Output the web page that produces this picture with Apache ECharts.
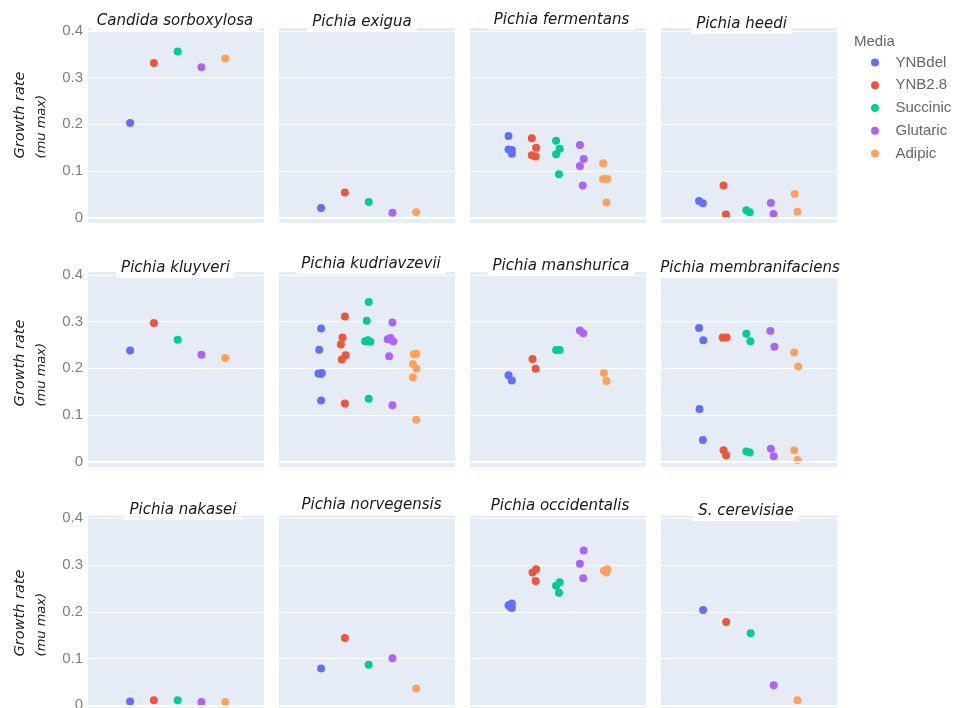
<!DOCTYPE html>
<html>
<head>
<meta charset="utf-8">
<script src="https://cdn.jsdelivr.net/npm/echarts@6/dist/echarts.min.js"></script>
<style>
  html, body { margin: 0; padding: 0; background: #fff; }
  #chart { width: 957px; height: 708px; }
</style>
</head>
<body>
<div id="chart"></div>
<script>
  const media = ['YNBdel', 'YNB2.8', 'Succinic', 'Glutaric', 'Adipic'];
  const species = [
    'Candida sorboxylosa', 'Pichia exigua', 'Pichia fermentans', 'Pichia heedi',
    'Pichia kluyveri', 'Pichia kudriavzevii', 'Pichia manshurica', 'Pichia membranifaciens',
    'Pichia nakasei', 'Pichia norvegensis', 'Pichia occidentalis', 'S. cerevisiae'
  ];
  const yTicks = [0, 0.1, 0.2, 0.3, 0.4];

  // each point: [media index, jitter, growth rate]
  const candidaSorboxylosa = [[0, 0, 0.203], [1, 0, 0.331], [2, 0, 0.356], [3, 0, 0.322], [4, 0, 0.341]];
  const pichiaExigua = [[0, 0, 0.021], [1, 0, 0.054], [2, 0, 0.034], [3, 0, 0.011], [4, 0, 0.012]];
  const pichiaFermentans = [
    [0, -0.15, 0.175], [0, -0.15, 0.146], [0, -0.01, 0.145], [0, -0.01, 0.137],
    [1, -0.17, 0.170], [1, 0.01, 0.150], [1, -0.17, 0.134], [1, -0.01, 0.131],
    [2, -0.15, 0.165], [2, 0, 0.148], [2, -0.15, 0.136], [2, -0.03, 0.093],
    [3, -0.15, 0.156], [3, 0.01, 0.126], [3, -0.15, 0.111], [3, -0.03, 0.069],
    [4, -0.17, 0.117], [4, -0.17, 0.083], [4, 0, 0.083], [4, -0.03, 0.033]
  ];
  const pichiaHeedi = [
    [0, -0.17, 0.036], [0, -0.01, 0.031], [1, -0.14, 0.069], [1, -0.04, 0.007],
    [2, -0.18, 0.016], [2, -0.04, 0.012], [3, -0.15, 0.032], [3, -0.04, 0.008],
    [4, -0.15, 0.051], [4, -0.03, 0.013]
  ];
  const pichiaKluyveri = [[0, 0, 0.238], [1, 0, 0.297], [2, 0, 0.261], [3, 0, 0.229], [4, 0, 0.222]];
  const pichiaKudriavzevii = [
    [0, 0, 0.285], [0, -0.08, 0.240], [0, -0.11, 0.189], [0, -0.01, 0.188], [0, 0.03, 0.190], [0, 0, 0.131],
    [1, 0, 0.311], [1, -0.1, 0.266], [1, -0.17, 0.251], [1, 0.03, 0.228], [1, -0.13, 0.219], [1, 0, 0.125],
    [2, 0, 0.342], [2, -0.08, 0.302], [2, -0.15, 0.258], [2, -0.03, 0.260], [2, 0.07, 0.257], [2, 0, 0.135],
    [3, 0, 0.298], [3, -0.2, 0.262], [3, -0.08, 0.265], [3, 0.03, 0.258], [3, -0.14, 0.226], [3, 0, 0.121],
    [4, -0.1, 0.230], [4, 0, 0.231], [4, -0.14, 0.209], [4, 0.01, 0.199], [4, -0.14, 0.181], [4, 0, 0.090]
  ];
  const pichiaManshurica = [
    [0, -0.15, 0.185], [0, -0.01, 0.174], [1, -0.14, 0.220], [1, -0.01, 0.199],
    [2, -0.15, 0.239], [2, 0, 0.239], [3, -0.15, 0.281], [3, -0.01, 0.275],
    [4, -0.14, 0.190], [4, -0.03, 0.173]
  ];
  const pichiaMembranifaciens = [
    [0, -0.17, 0.286], [0, 0.01, 0.260], [0, -0.15, 0.113], [0, -0.01, 0.047],
    [1, -0.18, 0.266], [1, -0.01, 0.266], [1, -0.14, 0.025], [1, -0.03, 0.014],
    [2, -0.18, 0.274], [2, -0.01, 0.258], [2, -0.18, 0.022], [2, -0.04, 0.020],
    [3, -0.17, 0.280], [3, 0, 0.246], [3, -0.15, 0.028], [3, -0.03, 0.012],
    [4, -0.17, 0.234], [4, 0, 0.204], [4, -0.17, 0.025], [4, -0.03, 0.004]
  ];
  const pichiaNakasei = [[0, 0, 0.008], [1, 0, 0.011], [2, 0, 0.011], [3, 0, 0.007], [4, 0, 0.007]];
  const pichiaNorvegensis = [[0, 0, 0.079], [1, 0, 0.144], [2, 0, 0.087], [3, 0, 0.101], [4, 0, 0.036]];
  const pichiaOccidentalis = [
    [0, -0.15, 0.214], [0, -0.01, 0.218], [0, -0.01, 0.208], [0, -0.08, 0.211],
    [1, -0.14, 0.284], [1, 0.01, 0.291], [1, -0.01, 0.266],
    [2, -0.15, 0.256], [2, 0, 0.263], [2, -0.03, 0.241],
    [3, 0.01, 0.331], [3, -0.15, 0.303], [3, -0.01, 0.272],
    [4, -0.14, 0.288], [4, 0, 0.291], [4, -0.03, 0.284]
  ];
  const sCerevisiae = [[0, 0, 0.204], [1, -0.03, 0.178], [2, 0, 0.154], [3, -0.03, 0.043], [4, -0.03, 0.011]];

  const speciesPoints = [
    candidaSorboxylosa, pichiaExigua, pichiaFermentans, pichiaHeedi,
    pichiaKluyveri, pichiaKudriavzevii, pichiaManshurica, pichiaMembranifaciens,
    pichiaNakasei, pichiaNorvegensis, pichiaOccidentalis, sCerevisiae
  ];

  const mediaColors = ['#636efa', '#EF553B', '#00cc96', '#ab63fa', '#FFA15A'];
  const colLeft = [88, 279, 470, 661];
  const rowTop = [28, 272, 515.5];
  const panelW = 176, panelH = 195;
  // the subplot titles sit a little unevenly in the original
  const titleDx = [-1, -5, 3.5, -7.5, -0.5, 4, 3, 1, 7, 4.5, 2, -3];
  const titleY = [13, 14, 12, 16, 260, 256, 258, 260, 502, 497, 498, 503];
  const namePad = [21, 13, 0];
  const italicFont = 'DejaVu Sans';

  const grid = [], xAxis = [], yAxis = [], title = [], series = [];

  species.forEach((name, i) => {
    const r = Math.floor(i / 4), c = i % 4;
    grid.push({
      left: colLeft[c], top: rowTop[r], width: panelW, height: panelH,
      show: true, backgroundColor: '#E5ECF6', borderWidth: 0,
      containLabel: false, outerBoundsMode: 'none'
    });
    xAxis.push({ gridIndex: i, type: 'value', min: -1.77, max: 5.63, show: false });
    yAxis.push({
      gridIndex: i, type: 'value', min: -0.011, max: 0.406,
      axisLine: { show: false },
      axisTick: { show: false, customValues: yTicks },
      splitLine: { show: true, lineStyle: { color: '#ffffff', width: 1 } },
      axisLabel: {
        show: c === 0, customValues: yTicks, margin: 5,
        color: '#7f7f7f', fontSize: 15, fontFamily: 'Liberation Sans',
        formatter: v => String(v)
      },
      name: c === 0 ? '{a|Growth rate}\n{b|(mu max)}' : '',
      nameLocation: 'middle', nameRotate: 90, nameGap: 35,
      nameTextStyle: {
        padding: [0, 0, 0, namePad[r]],
        rich: {
          a: { fontFamily: italicFont, fontStyle: 'italic', fontSize: 14.5, color: '#222', lineHeight: 22, align: 'left' },
          b: { fontFamily: italicFont, fontStyle: 'italic', fontSize: 13, color: '#222', lineHeight: 22, align: 'left' }
        }
      }
    });
    title.push({
      text: name, left: colLeft[c] + panelW / 2 + titleDx[i] - 5, top: titleY[i], textAlign: 'center',
      backgroundColor: '#ffffff', padding: [1, 5, 2, 5],
      textStyle: { fontFamily: italicFont, fontStyle: 'italic', fontWeight: 'normal', fontSize: 15, color: '#1a1a1a' }
    });

    // zero line sits under the markers
    series.push({
      type: 'scatter', xAxisIndex: i, yAxisIndex: i, data: [], z: 1, silent: true,
      markLine: {
        silent: true, symbol: 'none', animation: false, label: { show: false },
        lineStyle: { color: '#ffffff', width: 2, type: 'solid' },
        data: [{ yAxis: 0 }]
      }
    });

    media.forEach((m, k) => {
      series.push({
        name: m, type: 'scatter', xAxisIndex: i, yAxisIndex: i,
        symbolSize: 8, itemStyle: { color: mediaColors[k], opacity: 1 },
        data: speciesPoints[i].filter(p => p[0] === k).map(p => [p[0] + p[1], p[2]])
      });
    });
  });

  title.push({
    text: 'Media', left: 854, top: 34, padding: 0,
    textStyle: { fontFamily: 'Liberation Sans', fontSize: 15, fontWeight: 'normal', color: '#666' }
  });

  const chart = echarts.init(document.getElementById('chart'), null, { renderer: 'canvas' });
  chart.setOption({
    animation: false,
    title: title,
    legend: {
      data: media, orient: 'vertical', left: 871, top: 55, padding: 0,
      icon: 'circle', itemWidth: 31, itemHeight: 8, itemGap: 7.75,
      textStyle: { fontFamily: 'Liberation Sans', fontSize: 15, color: '#666' }
    },
    grid: grid,
    xAxis: xAxis,
    yAxis: yAxis,
    series: series
  });
</script>
</body>
</html>
